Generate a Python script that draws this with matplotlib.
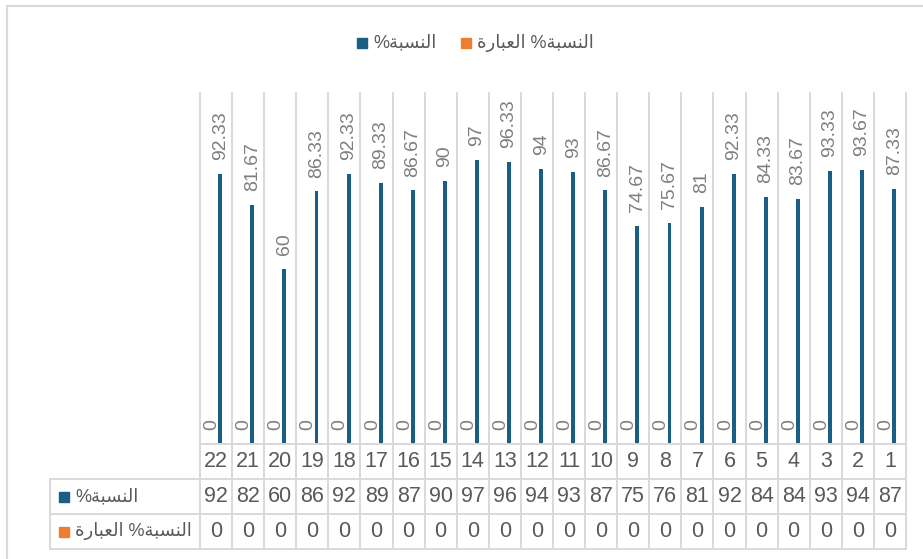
import matplotlib
matplotlib.use("Agg")
import matplotlib.pyplot as plt
from matplotlib.transforms import blended_transform_factory
from matplotlib.patches import Rectangle
from matplotlib.lines import Line2D

# ---------------- data ----------------
categories = ["22", "21", "20", "19", "18", "17", "16", "15", "14", "13", "12",
              "11", "10", "9", "8", "7", "6", "5", "4", "3", "2", "1"]
pct_values = [92.33, 81.67, 60, 86.33, 92.33, 89.33, 86.67, 90, 97, 96.33, 94,
              93, 86.67, 74.67, 75.67, 81, 92.33, 84.33, 83.67, 93.33, 93.67, 87.33]
stmt_values = [0, 0, 0, 0, 0, 0, 0, 0, 0, 0, 0,
               0, 0, 0, 0, 0, 0, 0, 0, 0, 0, 0]
series_pct_name = "النسبة%"
series_stmt_name = "النسبة% العبارة"
color_pct = "#1B5E85"
color_stmt = "#ED7D31"
y_max = 120

# ------------- minimal Arabic shaping (presentation forms, RTL) -------------
FORMS = {  # isolated, final, initial, medial
    "ا": ("\uFE8D", "\uFE8E", None, None),
    "ل": ("\uFEDD", "\uFEDE", "\uFEDF", "\uFEE0"),
    "ن": ("\uFEE5", "\uFEE6", "\uFEE7", "\uFEE8"),
    "س": ("\uFEB1", "\uFEB2", "\uFEB3", "\uFEB4"),
    "ب": ("\uFE8F", "\uFE90", "\uFE91", "\uFE92"),
    "ة": ("\uFE93", "\uFE94", None, None),
    "ع": ("\uFEC9", "\uFECA", "\uFECB", "\uFECC"),
    "ر": ("\uFEAD", "\uFEAE", None, None),
}


def shape(text):
    out = []
    for i, ch in enumerate(text):
        if ch not in FORMS:
            out.append(ch)
            continue
        prev = text[i - 1] if i > 0 else None
        nxt = text[i + 1] if i + 1 < len(text) else None
        jp = prev in FORMS and FORMS[prev][2] is not None
        jn = FORMS[ch][2] is not None and nxt in FORMS
        iso, fin, ini, med = FORMS[ch]
        if jp and jn:
            out.append(med)
        elif jp:
            out.append(fin)
        elif jn:
            out.append(ini)
        else:
            out.append(iso)
    return "".join(out)[::-1]


FAM = ["Liberation Sans", "DejaVu Sans"]
W, H = 923, 559


def fx(px):
    return px / W


def fy(py):
    return 1 - py / H


fig = plt.figure(figsize=(W / 100, H / 100), dpi=100)
ax = fig.add_axes([fx(200), fy(444), (906 - 200) / W, (444 - 93) / H])
n = len(categories)
xs = list(range(n))

ax.bar([x - 0.13 for x in xs], stmt_values, width=0.12, color=color_stmt, zorder=3)
ax.bar([x + 0.13 for x in xs], pct_values, width=0.12, color=color_pct, zorder=3)

label_color = "#7F7F7F"
for x, v in zip(xs, pct_values):
    ax.annotate(f"{v:g}", (x + 0.13, v), xytext=(0, 10), textcoords="offset points",
                rotation=90, ha="center", va="bottom", fontsize=14,
                color=label_color, family=FAM)
for x, v in zip(xs, stmt_values):
    ax.annotate(f"{v:g}", (x - 0.13, v), xytext=(0, 10), textcoords="offset points",
                rotation=90, ha="center", va="bottom", fontsize=14,
                color=label_color, family=FAM)

ax.set_xlim(-0.5, n - 0.5)
ax.set_ylim(0, y_max)
ax.axis("off")

grid_c = "#D9D9D9"
lw = 1.4
trans = blended_transform_factory(ax.transData, fig.transFigure)

# vertical lines (grid + table)
for i in range(n + 1):
    fig.add_artist(Line2D([i - 0.5, i - 0.5], [fy(93), fy(549)], transform=trans,
                          color=grid_c, lw=lw, zorder=1))
# header column left line
fig.add_artist(Line2D([fx(50), fx(50)], [fy(479), fy(549)], transform=fig.transFigure,
                      color=grid_c, lw=lw))
# horizontal lines
fig.add_artist(Line2D([fx(200), fx(906)], [fy(444), fy(444)], transform=fig.transFigure,
                      color=grid_c, lw=lw))
for py in (479, 514, 549):
    fig.add_artist(Line2D([fx(50), fx(906)], [fy(py), fy(py)], transform=fig.transFigure,
                          color=grid_c, lw=lw))

# table text
tcol = "#595959"
tfs = 15.5
for x, c, v, s in zip(xs, categories, pct_values, stmt_values):
    fig.text(x, fy(461.5), c, transform=trans, ha="center", va="center",
             fontsize=tfs, color=tcol, family=FAM)
    fig.text(x, fy(496.5), f"{v:.0f}", transform=trans, ha="center", va="center",
             fontsize=tfs, color=tcol, family=FAM)
    fig.text(x, fy(531.5), f"{s:.0f}", transform=trans, ha="center", va="center",
             fontsize=tfs, color=tcol, family=FAM)

# row headers
for py, name, col in ((496.5, series_pct_name, color_pct),
                      (531.5, series_stmt_name, color_stmt)):
    fig.add_artist(Rectangle((fx(59), fy(py + 5)), 10 / W, 10 / H,
                             transform=fig.transFigure, color=col))
    fig.text(fx(75), fy(py), shape(name), ha="left", va="center",
             fontsize=13, color=tcol, family=FAM)

# legend
for lx, name, col in ((357, series_pct_name, color_pct),
                      (461, series_stmt_name, color_stmt)):
    fig.add_artist(Rectangle((fx(lx), fy(48)), 10 / W, 10 / H,
                             transform=fig.transFigure, color=col))
    fig.text(fx(lx + 16), fy(43), shape(name), ha="left", va="center",
             fontsize=13, color=tcol, family=FAM)

# outer chart border
fig.add_artist(Rectangle((fx(7), -0.1), 1.2, fy(6) + 0.1, transform=fig.transFigure,
                         fill=False, edgecolor=grid_c, lw=1.6))

fig.savefig("out.png", dpi=100)
